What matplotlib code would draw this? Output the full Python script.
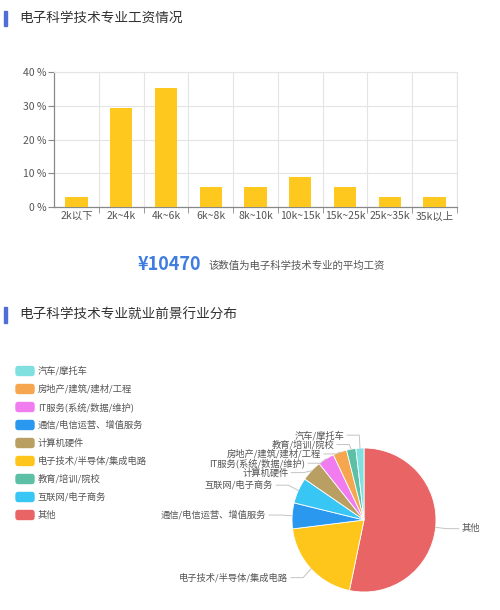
import numpy as np
import matplotlib.pyplot as plt
from matplotlib.patches import Rectangle, FancyBboxPatch
from matplotlib.ticker import FixedLocator

plt.rcParams['font.family'] = ['Noto Sans CJK SC', 'DejaVu Sans']

# 工资分布数据
salary_cats = ['2k以下', '2k~4k', '4k~6k', '6k~8k', '8k~10k', '10k~15k', '15k~25k', '25k~35k', '35k以上']
salary_pct = [2.94, 29.41, 35.29, 5.88, 5.88, 8.82, 5.88, 2.94, 2.94]
avg_salary = 10470

# 行业分布数据（饼图顺时针顺序）
pie_names = ['其他', '电子技术/半导体/集成电路', '通信/电信运营、增值服务', '互联网/电子商务',
             '计算机硬件', 'IT服务(系统/数据/维护)', '房地产/建筑/建材/工程', '教育/培训/院校', '汽车/摩托车']
pie_values = [53.3, 19.8, 5.8, 5.8, 4.7, 3.7, 3.1, 2.1, 1.8]
pie_colors = ['#e96565', '#fec61a', '#2b98f0', '#38c6f4', '#b9a062',
              '#f07cf0', '#f6a64e', '#5cc0a6', '#80dfdf']
legend_order = ['汽车/摩托车', '房地产/建筑/建材/工程', 'IT服务(系统/数据/维护)', '通信/电信运营、增值服务',
                '计算机硬件', '电子技术/半导体/集成电路', '教育/培训/院校', '互联网/电子商务', '其他']

W, H = 500, 610
fig = plt.figure(figsize=(5, 6.1), dpi=100)
fig.patch.set_facecolor('white')


def fx(px):
    return px / W


def fy(py):
    return 1 - py / H


title_blue = '#4f6fd6'
text_dark = '#333333'
text_gray = '#555555'

# 标题 1
fig.patches.append(Rectangle((fx(4), fy(26)), fx(3), 15 / H, transform=fig.transFigure,
                             color=title_blue, zorder=5))
fig.text(fx(19), fy(18), '电子科学技术专业工资情况', fontsize=9.8, color=text_dark, va='center')

# 柱状图
ax = fig.add_axes([fx(54), fy(207), fx(457) - fx(54), fy(72) - fy(207)])
x = np.arange(len(salary_cats))
ax.bar(x, salary_pct, width=0.5, color='#fec81e', zorder=3)
ax.set_xlim(-0.5, len(salary_cats) - 0.5)
ax.set_ylim(0, 40)
ax.set_xticks(x)
ax.set_xticklabels(salary_cats, fontsize=7.5, color=text_gray)
ax.xaxis.set_minor_locator(FixedLocator(np.arange(0.5, len(salary_cats), 1)))
ax.set_yticks([0, 10, 20, 30, 40])
ax.set_yticklabels([f'{v} %' for v in [0, 10, 20, 30, 40]], fontsize=7.5, color=text_gray)
ax.tick_params(axis='x', which='major', length=0, pad=3)
ax.tick_params(axis='x', which='minor', length=4, color='#888888')
ax.tick_params(axis='y', length=4, color='#888888', pad=1.5)
ax.grid(True, axis='y', color='#e4e4e4', linewidth=0.8, zorder=0)
ax.grid(True, axis='x', which='minor', color='#e4e4e4', linewidth=0.8, zorder=0)
for s in ['top', 'right']:
    ax.spines[s].set_color('#e4e4e4')
    ax.spines[s].set_linewidth(0.8)
for s in ['left', 'bottom']:
    ax.spines[s].set_color('#888888')
    ax.spines[s].set_linewidth(0.9)

# 平均工资
fig.text(fx(201), fy(265), f'¥{avg_salary}', fontsize=13, fontweight='bold', color='#3f7ee0',
         ha='right', va='center')
fig.text(fx(209), fy(266), '该数值为电子科学技术专业的平均工资', fontsize=7.5, color=text_gray, va='center')

# 标题 2
fig.patches.append(Rectangle((fx(4), fy(323)), fx(3), 16 / H, transform=fig.transFigure,
                             color=title_blue, zorder=5))
fig.text(fx(19), fy(315), '电子科学技术专业就业前景行业分布', fontsize=9.8, color=text_dark, va='center')

# 图例
color_of = dict(zip(pie_names, pie_colors))
for i, name in enumerate(legend_order):
    yc = 371 + 18 * i
    fig.patches.append(FancyBboxPatch((fx(16), fy(yc + 4.5)), fx(18), 9 / H,
                                      boxstyle='round,pad=0,rounding_size=0.004',
                                      transform=fig.transFigure, color=color_of[name]))
    fig.text(fx(38), fy(yc), name, fontsize=6.7, color=text_gray, va='center')

# 饼图
cx, cy, R = 364, 520, 72
pax = fig.add_axes([fx(150), 0, fx(500) - fx(150), 180 / H])
wedges, _ = pax.pie(pie_values, colors=pie_colors, startangle=90, counterclock=False,
                    radius=1, wedgeprops=dict(edgecolor='white', linewidth=0.6))
pax.set_xlim((150 - cx) / R, (500 - cx) / R)
pax.set_ylim((cy - 610) / R, (cy - 430) / R)
pax.set_aspect('auto')
pax.axis('off')

# 标签位置（避免重叠）
fracs = np.array(pie_values) / sum(pie_values)
mids = 90 - 360 * (np.cumsum(fracs) - fracs / 2)
rad = np.deg2rad(mids)
lab_y = 1.18 * np.sin(rad)
bend_x = 1.15 * np.cos(rad)
left = [i for i in range(len(pie_values)) if bend_x[i] < 0]
left.sort(key=lambda i: -lab_y[i])
prev = None
for i in left:
    if prev is not None and lab_y[i] > prev - 0.13:
        lab_y[i] = prev - 0.13
    prev = lab_y[i]

for i, name in enumerate(pie_names):
    ex, ey = np.cos(rad[i]), np.sin(rad[i])
    bx = bend_x[i]
    sgn = 1 if bx >= 0 else -1
    hx = bx + sgn * 0.17
    pax.plot([ex, bx, hx], [ey, lab_y[i], lab_y[i]], color='#c4c4c4', linewidth=0.7,
             clip_on=False)
    pax.text(hx + sgn * 0.04, lab_y[i], name, fontsize=6.7, color=text_gray, va='center',
             ha='left' if sgn > 0 else 'right', clip_on=False)

fig.savefig('out.png', dpi=100)
